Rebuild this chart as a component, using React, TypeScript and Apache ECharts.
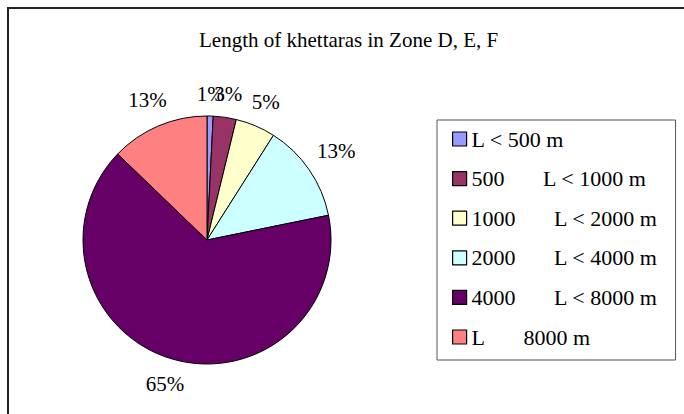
import React, { useEffect, useRef } from "react";
import * as echarts from "echarts";

const titleText = "Length of khettaras in Zone D, E, F";
const NB = "\u00A0";
const categories = [
  "L < 500 m",
  "500" + NB.repeat(7) + "L < 1000 m",
  "1000" + NB.repeat(7) + "L < 2000 m",
  "2000" + NB.repeat(7) + "L < 4000 m",
  "4000" + NB.repeat(7) + "L < 8000 m",
  "L" + NB.repeat(7) + "8000 m",
];
const shares = [0.8, 3.0, 5.2, 12.8, 65.4, 12.8];
const colors = ["#9999FF", "#993366", "#FFFFCC", "#CCFFFF", "#660066", "#FF8080"];

const FONT = "Liberation Serif";
const CX = 207;
const CY = 240;
const R = 124;
const LABEL_GAP = 11;

export default function App() {
  const ref = useRef<HTMLDivElement>(null);
  useEffect(() => {
    if (!ref.current) return;
    const chart = echarts.init(ref.current, undefined, { renderer: "svg" });
    const total = shares.reduce((a, b) => a + b, 0);
    const starts: number[] = [];
    shares.reduce((acc, v, i) => {
      starts[i] = acc;
      return acc + v;
    }, 0);
    const data = categories.map((name, i) => ({
      name,
      value: shares[i],
      itemStyle: { color: colors[i] },
    }));
    chart.setOption({
      animation: false,
      backgroundColor: "#fff",
      textStyle: { fontFamily: FONT },
      title: {
        text: titleText,
        left: 194,
        top: 24,
        textStyle: { fontFamily: FONT, fontSize: 21, fontWeight: "normal", color: "#000" },
      },
      legend: {
        orient: "vertical",
        left: 437,
        top: 120,
        padding: [8, 18, 12, 15],
        itemGap: 17.6,
        itemWidth: 14,
        itemHeight: 14,
        icon: "rect",
        borderColor: "#555",
        borderWidth: 1,
        selectedMode: false,
        data: categories,
        itemStyle: { borderColor: "#000", borderWidth: 1.2 },
        textStyle: { fontFamily: FONT, fontSize: 22, color: "#000" },
      },
      graphic: [
        {
          type: "rect",
          shape: { x: 8, y: 8, width: 720, height: 440 },
          style: { fill: "none", stroke: "#222", lineWidth: 2 },
          silent: true,
        },
      ],
      series: [
        {
          type: "pie",
          center: [CX, CY],
          radius: R,
          startAngle: 90,
          clockwise: true,
          minShowLabelAngle: 0,
          avoidLabelOverlap: false,
          label: {
            show: true,
            position: "inside",
            color: "#000",
            fontFamily: FONT,
            fontSize: 21,
            formatter: (p: any) => Math.round(p.percent) + "%",
          },
          labelLine: { show: false },
          labelLayout: (p: any) => {
            const i = p.dataIndex;
            const mid = ((starts[i] + shares[i] / 2) / total) * Math.PI * 2;
            const s = Math.sin(mid);
            const c = Math.cos(mid);
            const w = p.labelRect.width;
            const h = p.labelRect.height;
            const ext = (Math.abs(s) * w) / 2 + (Math.abs(c) * h) / 2;
            const rr = R + LABEL_GAP + ext;
            return {
              x: CX + rr * s,
              y: CY - rr * c,
              align: "center",
              verticalAlign: "middle",
              hideOverlap: false,
            };
          },
          itemStyle: { borderColor: "#000", borderWidth: 1 },
          emphasis: { disabled: true },
          data,
        },
      ],
    });
    return () => chart.dispose();
  }, []);
  return (
    <div
      ref={ref}
      style={{ position: "absolute", left: 0, top: 0, width: 684, height: 414 }}
    />
  );
}
